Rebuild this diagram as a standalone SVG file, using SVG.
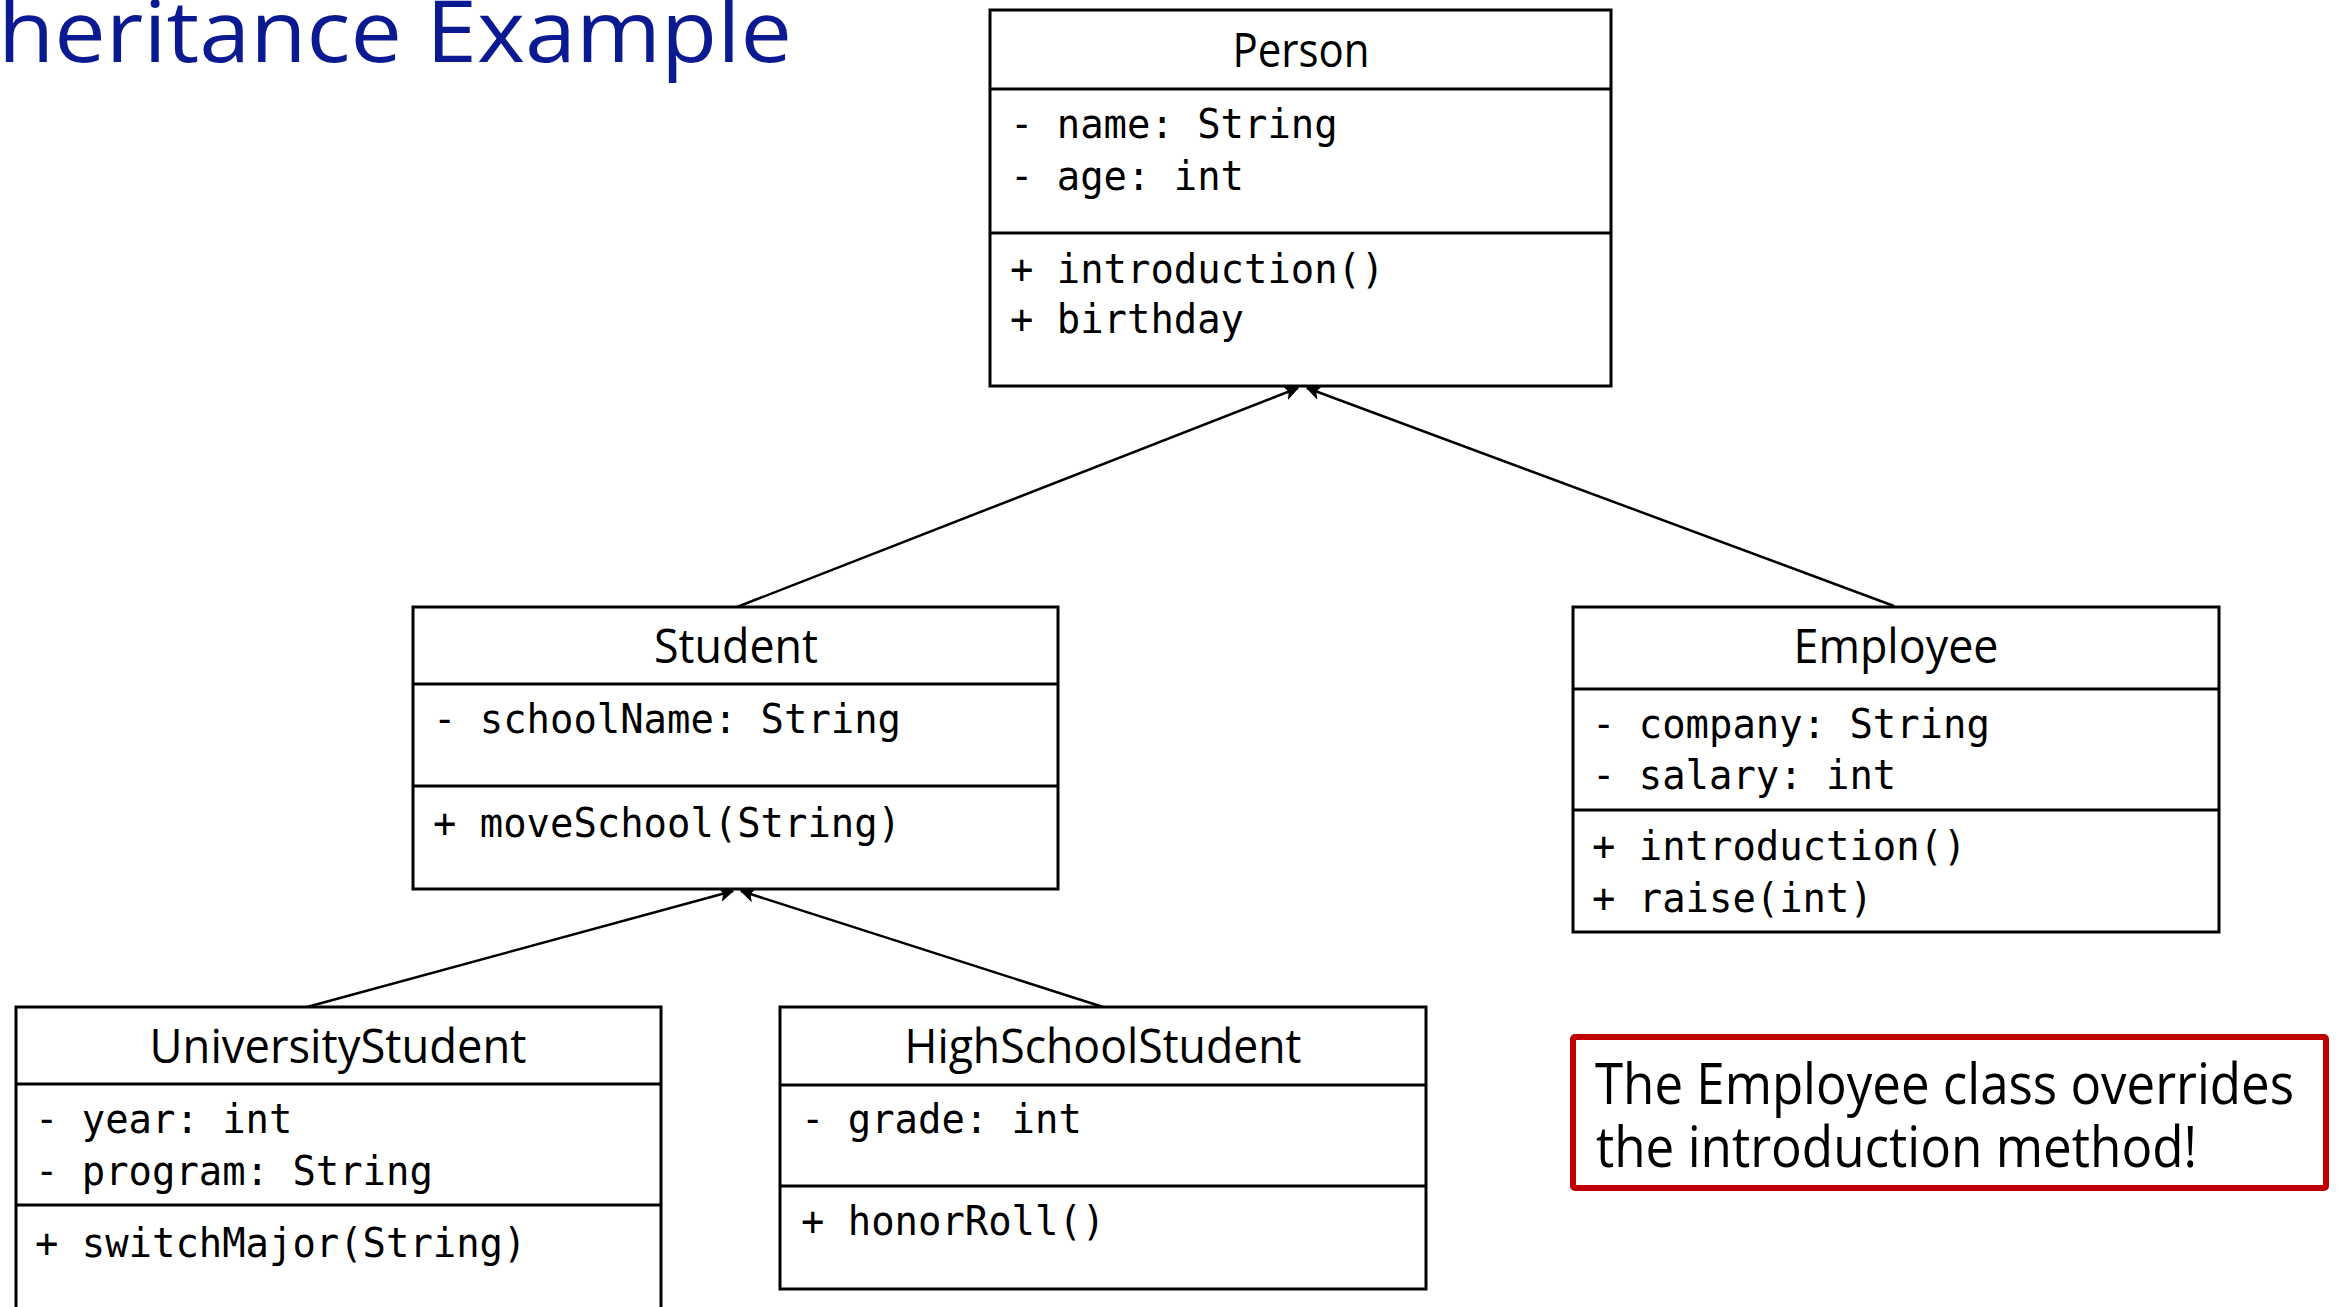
<svg xmlns="http://www.w3.org/2000/svg" width="2343" height="1307" viewBox="0 0 2343 1307">
<style>
.box{fill:#ffffff;stroke:#000000;stroke-width:3}
.div{stroke:#000000;stroke-width:3}
.ttl{font-family:"Open Sans","Noto Sans",sans-serif;font-size:47px;fill:#000000;text-anchor:middle}
.mono{font-family:"DejaVu Sans Mono","Liberation Mono",monospace;font-size:40px;fill:#000000}
.conn{stroke:#000000;stroke-width:2.5;fill:none}
.note{fill:none;stroke:#c00000;stroke-width:6}
.notetxt{font-family:"Open Sans","Noto Sans",sans-serif;font-size:57px;fill:#000000}
.heading{font-family:"Open Sans","Noto Sans",sans-serif;font-size:86px;fill:#0b1a91}
</style>
<defs>
<marker id="arr" viewBox="0 0 12 12" refX="11" refY="6" markerWidth="6" markerHeight="6" orient="auto" markerUnits="strokeWidth">
<path d="M0,0 L12,6 L0,12 L3,6 z" fill="#000000"/>
</marker>
</defs>
<rect width="2343" height="1307" fill="#ffffff"/>
<text class="heading" x="-2" y="62" textLength="794" lengthAdjust="spacingAndGlyphs">heritance Example</text>

<g id="connectors">
<line class="conn" x1="737" y1="607" x2="1298" y2="388" marker-end="url(#arr)"/>
<line class="conn" x1="1894" y1="606" x2="1307" y2="388" marker-end="url(#arr)"/>
<line class="conn" x1="307" y1="1007" x2="733" y2="891" marker-end="url(#arr)"/>
<line class="conn" x1="1103" y1="1007" x2="741" y2="891" marker-end="url(#arr)"/>
</g>

<g id="Person">
<rect class="box" x="990" y="10" width="621" height="376"/>
<line class="div" x1="990" y1="89" x2="1611" y2="89"/>
<line class="div" x1="990" y1="233" x2="1611" y2="233"/>
<text class="ttl" x="1301" y="67" textLength="137" lengthAdjust="spacingAndGlyphs">Person</text>
<text class="mono" x="1010" y="138" textLength="327.6" lengthAdjust="spacingAndGlyphs">- name: String</text>
<text class="mono" x="1010" y="190" textLength="234" lengthAdjust="spacingAndGlyphs">- age: int</text>
<text class="mono" x="1010" y="283" textLength="374.4" lengthAdjust="spacingAndGlyphs">+ introduction()</text>
<text class="mono" x="1010" y="333" textLength="234" lengthAdjust="spacingAndGlyphs">+ birthday</text>
</g>

<g id="Student">
<rect class="box" x="413" y="607" width="645" height="282"/>
<line class="div" x1="413" y1="684" x2="1058" y2="684"/>
<line class="div" x1="413" y1="786" x2="1058" y2="786"/>
<text class="ttl" x="736" y="663" textLength="164" lengthAdjust="spacingAndGlyphs">Student</text>
<text class="mono" x="433" y="733" textLength="468" lengthAdjust="spacingAndGlyphs">- schoolName: String</text>
<text class="mono" x="433" y="837" textLength="468" lengthAdjust="spacingAndGlyphs">+ moveSchool(String)</text>
</g>

<g id="Employee">
<rect class="box" x="1573" y="607" width="646" height="325"/>
<line class="div" x1="1573" y1="689" x2="2219" y2="689"/>
<line class="div" x1="1573" y1="810" x2="2219" y2="810"/>
<text class="ttl" x="1896" y="663" textLength="205" lengthAdjust="spacingAndGlyphs">Employee</text>
<text class="mono" x="1592" y="738" textLength="397.8" lengthAdjust="spacingAndGlyphs">- company: String</text>
<text class="mono" x="1592" y="789" textLength="304.2" lengthAdjust="spacingAndGlyphs">- salary: int</text>
<text class="mono" x="1592" y="860" textLength="374.4" lengthAdjust="spacingAndGlyphs">+ introduction()</text>
<text class="mono" x="1592" y="912" textLength="280.8" lengthAdjust="spacingAndGlyphs">+ raise(int)</text>
</g>

<g id="UniversityStudent">
<rect class="box" x="16" y="1007" width="645" height="330"/>
<line class="div" x1="16" y1="1084" x2="661" y2="1084"/>
<line class="div" x1="16" y1="1205" x2="661" y2="1205"/>
<text class="ttl" x="338" y="1063" textLength="377" lengthAdjust="spacingAndGlyphs">UniversityStudent</text>
<text class="mono" x="35" y="1133" textLength="257.4" lengthAdjust="spacingAndGlyphs">- year: int</text>
<text class="mono" x="35" y="1185" textLength="397.8" lengthAdjust="spacingAndGlyphs">- program: String</text>
<text class="mono" x="35" y="1257" textLength="491.4" lengthAdjust="spacingAndGlyphs">+ switchMajor(String)</text>
</g>

<g id="HighSchoolStudent">
<rect class="box" x="780" y="1007" width="646" height="282"/>
<line class="div" x1="780" y1="1085" x2="1426" y2="1085"/>
<line class="div" x1="780" y1="1186" x2="1426" y2="1186"/>
<text class="ttl" x="1103" y="1063" textLength="397" lengthAdjust="spacingAndGlyphs">HighSchoolStudent</text>
<text class="mono" x="801" y="1133" textLength="280.8" lengthAdjust="spacingAndGlyphs">- grade: int</text>
<text class="mono" x="801" y="1235" textLength="304.2" lengthAdjust="spacingAndGlyphs">+ honorRoll()</text>
</g>

<g id="Note">
<rect class="note" x="1573" y="1037" width="753" height="151" rx="2"/>
<text class="notetxt" x="1595" y="1104" textLength="699" lengthAdjust="spacingAndGlyphs">The Employee class overrides</text>
<text class="notetxt" x="1596" y="1167" textLength="601" lengthAdjust="spacingAndGlyphs">the introduction method!</text>
</g>
</svg>
